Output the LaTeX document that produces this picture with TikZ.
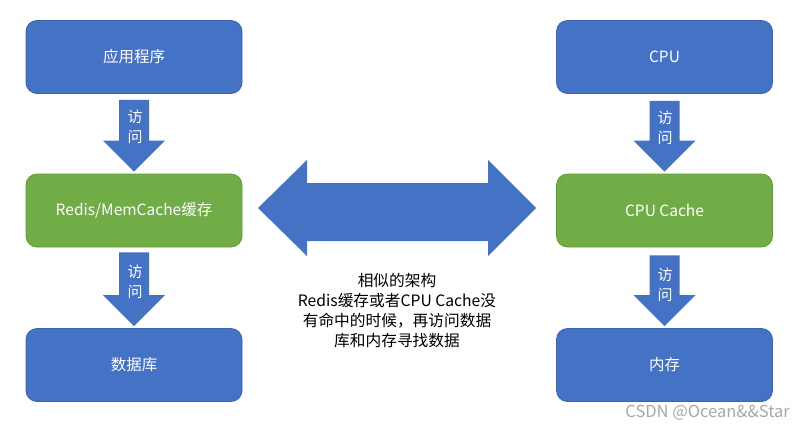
\documentclass[tikz,border=0pt]{standalone}
\usepackage{fontspec}
\setmainfont{Noto Sans CJK SC}
\usetikzlibrary{calc}
\definecolor{boxblue}{HTML}{4472C4}
\definecolor{boxblueline}{HTML}{3A64AE}
\definecolor{boxgreen}{HTML}{70AD47}
\definecolor{boxgreenline}{HTML}{5F9A3A}
\definecolor{wmgray}{HTML}{A8A8A8}
\tikzset{
  bluebox/.style={rectangle, rounded corners=11pt, fill=boxblue, draw=boxblueline, line width=0.8pt,
    minimum width=216pt, minimum height=73pt, text=white, font=\fontsize{15.5}{18}\selectfont, inner sep=0pt},
  greenbox/.style={bluebox, fill=boxgreen, draw=boxgreenline},
  blockarrow/.style={fill=boxblue},
  arrowlabel/.style={text=white, font=\fontsize{15}{19.5}\selectfont, align=center, inner sep=0pt},
  midtext/.style={text=black, font=\fontsize{15.7}{20}\selectfont, align=center, inner sep=0pt},
}
\newcommand{\blockdown}[3]{%
  \fill[blockarrow] ($(#1.south)+(-15,#3)$) -- ($(#1.south)+(15,#3)$)
    -- ($(#2.north)+(15,-33)$) -- ($(#2.north)+(31,-33)$)
    -- ($(#2.north)+(0,-2)$)
    -- ($(#2.north)+(-31,-33)$) -- ($(#2.north)+(-15,-33)$) -- cycle;}
\begin{document}
\begin{tikzpicture}[x=1pt,y=-1pt]
\useasboundingbox (0,0) rectangle (800,429);
\fill[white] (0,0) rectangle (800,429);
% left column
\node[bluebox]  (app)   at (134,57)    {应用程序};
\node[greenbox] (redis) at (134,210.5) {Redis/MemCache缓存};
\node[bluebox]  (db)    at (134,365)   {数据库};
% right column
\node[bluebox]  (cpu)   at (664.5,57)    {CPU};
\node[greenbox] (cache) at (664.5,210.5) {CPU Cache};
\node[bluebox]  (mem)   at (664.5,365)   {内存};
% block arrows
\blockdown{app}{redis}{6}
\blockdown{redis}{db}{5}
\blockdown{cpu}{cache}{7}
\blockdown{cache}{mem}{8}
\node[arrowlabel] (l1) at (135,127) {访\\问};
\node[arrowlabel] (l2) at (135,282) {访\\问};
\node[arrowlabel] (l3) at (665,128) {访\\问};
\node[arrowlabel] (l4) at (665,285) {访\\问};
% double arrow
\coordinate (dl) at (258,208);
\coordinate (dr) at (536,208);
\fill[blockarrow] (dl) -- (307,160) -- (307,183) -- (488,183) -- (488,160) -- (dr)
  -- (488,256) -- (488,241) -- (307,241) -- (307,256) -- cycle;
\node[midtext] (note) at (397,311) {相似的架构\\Redis缓存或者CPU Cache没\\有命中的时候，再访问数据\\库和内存寻找数据};
% watermark
\node[text=wmgray, font=\fontsize{16.5}{18}\selectfont, anchor=east, inner sep=0pt] (wm) at (790,413) {CSDN @Ocean\&\&Star};
\end{tikzpicture}
\end{document}
